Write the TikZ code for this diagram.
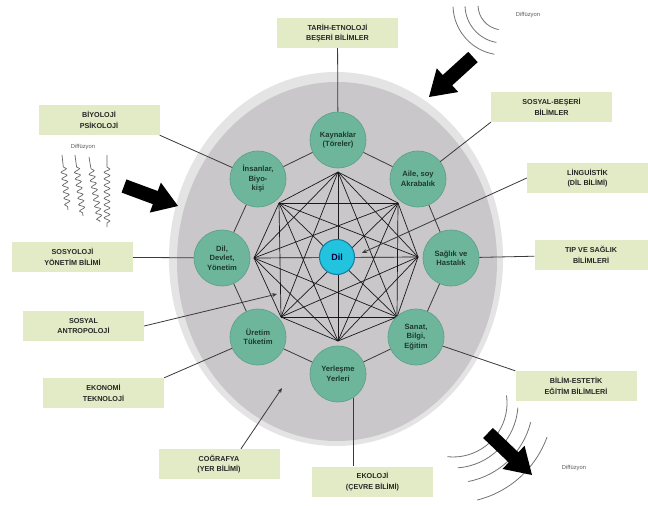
\documentclass[tikz,border=0pt]{standalone}
\usepackage{fontspec}
\setmainfont{Liberation Sans}
\usetikzlibrary{calc,decorations.pathmorphing,arrows.meta}
\definecolor{halocol}{HTML}{E4E4E4}
\definecolor{disccol}{HTML}{C9C7C9}
\definecolor{nodefill}{HTML}{6DB69B}
\definecolor{nodeborder}{HTML}{5A9E86}
\definecolor{nodetext}{HTML}{1E3A2E}
\definecolor{dilfill}{HTML}{22C3DE}
\definecolor{dilborder}{HTML}{1A7FA5}
\definecolor{labfill}{HTML}{E3EBC6}
\definecolor{linecol}{HTML}{3A3A3A}
\newcommand{\blockarr}[2]{%
  \coordinate (hb) at ($(#1)!0.58!(#2)$);
  \fill[black] ($(#1)!7pt!90:(#2)$) -- ($(hb)!7pt!90:(#2)$) -- ($(hb)!16pt!90:(#2)$) -- (#2)
    -- ($(hb)!16pt!-90:(#2)$) -- ($(hb)!7pt!-90:(#2)$) -- ($(#1)!7pt!-90:(#2)$) -- cycle;}
\begin{document}
\begin{tikzpicture}[x=1pt,y=-1pt,
  circ/.style={circle, fill=nodefill, draw=nodeborder, line width=0.6pt, minimum size=56pt,
    inner sep=0pt, align=center, font=\fontsize{7.6}{9.5}\selectfont\bfseries, text=nodetext},
  dilnode/.style={circle, fill=dilfill, draw=dilborder, line width=1.1pt, minimum size=35pt,
    inner sep=0pt, font=\fontsize{9}{10}\selectfont\bfseries, text=black!75!blue},
  lab/.style={fill=labfill, minimum width=121pt, minimum height=30pt, inner sep=0pt,
    align=center, font=\fontsize{7.2}{10.5}\selectfont\bfseries, text=black!85},
  conn/.style={draw=linecol, line width=0.8pt},
  mesh/.style={draw=black!90, line width=0.7pt},
  thinarr/.style={conn, -{Stealth[length=5pt,width=4pt]}},
  wav/.style={draw=black!60, line width=0.7pt, decorate,
    decoration={snake, amplitude=2.8pt, segment length=6.5pt, pre length=12pt, post length=1pt}},
  wave/.style={draw=black!55, line width=0.8pt},
  diff/.style={font=\fontsize{5.8}{6}\selectfont, text=black!65, inner sep=0pt}]
\useasboundingbox (0,0) rectangle (648,506);
\fill[white] (0,0) rectangle (648,506);
% discs
\fill[halocol] (336,259) ellipse [x radius=167, y radius=187];
\fill[disccol] (337,261.5) ellipse [x radius=160, y radius=179.5];
% mesh vertices
\coordinate (v1) at (338,172);
\coordinate (v2) at (398,203);
\coordinate (v3) at (418,257);
\coordinate (v4) at (397,317);
\coordinate (v5) at (338,341);
\coordinate (v6) at (281,317);
\coordinate (v7) at (254,258);
\coordinate (v8) at (279,203);
\foreach \a/\b in {1/2,1/3,1/4,1/5,1/6,1/7,1/8,2/3,2/4,2/5,2/6,2/7,2/8,3/4,3/5,3/6,3/7,3/8,
  4/5,4/6,4/7,4/8,5/6,5/7,5/8,6/7,6/8,7/8}
  \draw[mesh] (v\a) -- (v\b);
% circle nodes
\node[circ] (kay) at (338,140) {Kaynaklar\\(Töreler)};
\node[circ] (ins) at (258,179) {İnsanlar,\\Biyo-\\kişi};
\node[circ] (aile) at (418,179) {Aile, soy\\Akrabalık};
\node[circ] (dev) at (222,258) {Dil,\\Devlet,\\Yönetim};
\node[circ] (sag) at (451,258) {Sağlık ve\\Hastalık};
\node[circ] (ure) at (258,337) {Üretim\\Tüketim};
\node[circ] (san) at (416,337) {Sanat,\\Bilgi,\\Eğitim};
\node[circ] (yer) at (338,374) {Yerleşme\\Yerleri};
\node[dilnode] (dil) at (337,257) {Dil};
% ring
\draw[conn] (kay) -- (aile) -- (sag) -- (san) -- (yer) -- (ure) -- (dev) -- (ins) -- (kay);
% labels
\node[lab] (tarih) at (337.5,33) {TARİH-ETNOLOJİ\\BEŞERİ BİLİMLER};
\node[lab] (biyo) at (99,120) {BİYOLOJİ\\PSİKOLOJİ};
\node[lab] (sosyo) at (72.5,257) {SOSYOLOJİ\\YÖNETİM BİLİMİ};
\node[lab] (antro) at (83.5,326) {SOSYAL\\ANTROPOLOJİ};
\node[lab] (eko) at (103.5,393) {EKONOMİ\\TEKNOLOJİ};
\node[lab] (cog) at (219,464) {COĞRAFYA\\(YER BİLİMİ)};
\node[lab] (ekol) at (372.5,481.5) {EKOLOJİ\\(ÇEVRE BİLİMİ)};
\node[lab] (bilim) at (576,386) {BİLİM-ESTETİK\\EĞİTİM BİLİMLERİ};
\node[lab, minimum width=113pt] (tip) at (591,255) {TIP VE SAĞLIK\\BİLİMLERİ};
\node[lab] (ling) at (587.5,178) {LİNGUİSTİK\\(DİL BİLİMİ)};
\node[lab] (sosb) at (551.5,107) {SOSYAL-BEŞERİ\\BİLİMLER};
% connectors
\draw[conn] (tarih) -- (kay);
\draw[conn] (biyo.south east) -- (ins);
\draw[conn] (sosyo) -- (dev);
\draw[conn] (eko.north east) -- (ure);
\draw[conn] (bilim.north west) -- (san);
\draw[conn] (tip) -- (sag);
\draw[conn] (sosb.south west) -- (aile);
\draw[conn] (yer.-58) -- (yer.-58 |- ekol.north);
\coordinate (antT) at (277,294);
\coordinate (cogT) at (282,388);
\coordinate (lingT) at (362,253);
\coordinate (cogS) at ($(cog.north)+(22,0)$);
\draw[thinarr] (antro.east) -- (antT);
\draw[thinarr] (cogS) -- (cogT);
\draw[thinarr] (ling.west) -- (lingT);
% diffusion: left
\node[diff] (d1) at (83,147) {Diffüzyon};
\draw[wav] (62,155) -- (68,210);
\draw[wav] (75,155) -- (83,216);
\draw[wav] (89,157) -- (100,222);
\draw[wav] (107,155) -- (107,227);
\coordinate (a1t) at (124,186);
\coordinate (a1h) at (178,206);
\blockarr{a1t}{a1h}
% diffusion: top right
\node[diff] (d2) at (528,15) {Diffüzyon};
\coordinate (c2) at (503,5);
\foreach \r in {25,38,50}
  \draw[wave] ($(c2)+(100:\r)$) arc[start angle=100, end angle=178, radius=\r];
\coordinate (a2t) at (473,57);
\coordinate (a2h) at (429,97);
\blockarr{a2t}{a2h}
% diffusion: bottom right
\node[diff] (d3) at (574,468) {Diffüzyon};
\coordinate (c3) at (453,403);
\draw[wave] ($(c3)+(-8:54)$) arc[start angle=-8, end angle=96, radius=54];
\draw[wave] ($(c3)+(4:65)$) arc[start angle=4, end angle=86, radius=65];
\draw[wave] ($(c3)+(14:80)$) arc[start angle=14, end angle=79, radius=80];
\draw[wave] ($(c3)+(20:100)$) arc[start angle=20, end angle=76, radius=100];
\coordinate (a3t) at (488,433);
\coordinate (a3h) at (532,475);
\blockarr{a3t}{a3h}
\end{tikzpicture}
\end{document}
